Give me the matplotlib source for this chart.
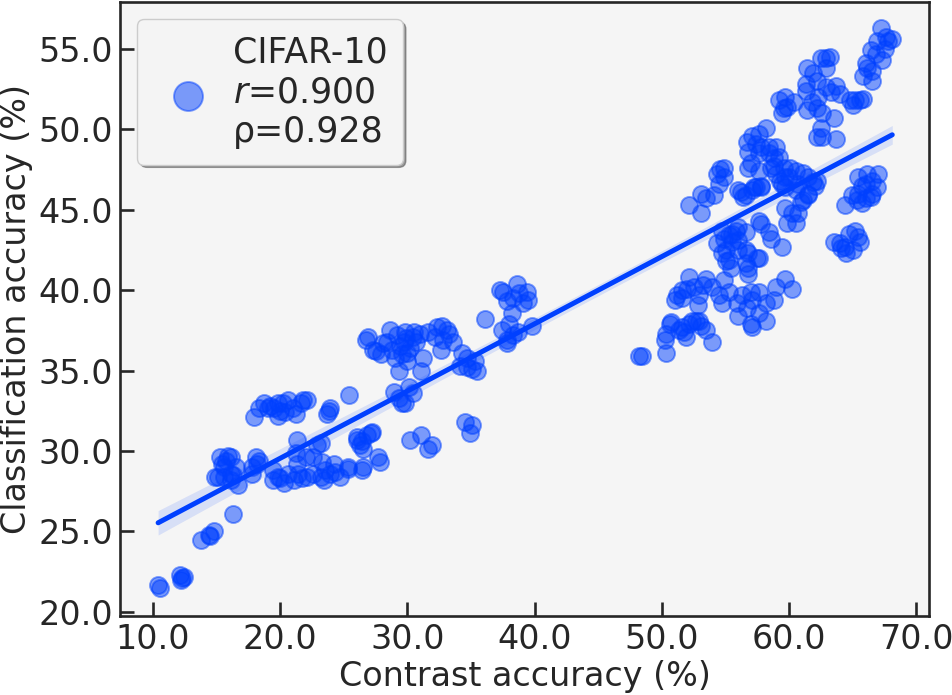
import numpy as np
import matplotlib
matplotlib.use("Agg")
import matplotlib.pyplot as plt

# ---- data (contrast acc %, classification acc %) ----
low_x = [10.4, 10.55, 12.1, 12.3, 12.2, 12.4, 13.8, 14.4, 14.8, 14.5, 16.3]
low_y = [21.7, 21.5, 22.3, 22.1, 22.0, 22.2, 24.5, 24.8, 25.0, 24.7, 26.1]

c15_x = [15.3, 15.7, 16.1, 15.1, 15.6, 16.3, 16.7, 16.1, 15.6, 16.5, 15.9, 14.9, 16.1, 15.4,
         18.1, 17.8, 18.2, 17.8, 18.3]
c15_y = [29.6, 29.4, 29.6, 28.4, 28.4, 28.5, 27.9, 28.2, 29.0, 29.0, 29.7, 28.4, 28.6, 29.2,
         29.6, 29.0, 29.2, 28.6, 29.4]

c33_x = [17.9, 18.3, 18.7, 19.2, 19.8, 20.0, 20.6, 21.0, 21.2, 21.8, 19.8, 20.4, 19.0, 19.5,
         21.6, 22.1, 20.2, 23.7, 23.9, 23.8, 25.4]
c33_y = [32.1, 32.7, 33.0, 32.8, 33.0, 32.5, 33.2, 32.7, 32.3, 33.2, 32.2, 32.4, 32.7, 32.7,
         33.0, 33.2, 33.0, 32.3, 32.7, 32.5, 33.5]

c28_x = [19.4, 19.4, 19.8, 20.3, 20.6, 21.1, 21.4, 21.7, 21.3, 21.2, 21.3, 22.0, 22.6, 22.9,
         23.2, 22.6, 23.2, 23.5, 23.9, 24.3, 24.7, 25.3, 23.4, 26.4, 24.2, 23.3, 20.0, 22.1,
         26.0, 26.4, 26.8, 27.2, 26.5, 26.3, 27.1, 26.0, 27.7, 27.8, 25.3, 26.5]
c28_y = [28.8, 28.2, 28.4, 28.0, 28.6, 28.2, 28.6, 28.3, 29.2, 29.9, 30.7, 29.6, 29.6, 30.4,
         30.5, 28.6, 28.4, 28.8, 28.6, 28.7, 28.4, 28.9, 28.2, 28.8, 29.2, 29.3, 28.3, 28.4,
         30.9, 30.6, 31.0, 31.2, 30.1, 30.4, 31.1, 30.7, 29.6, 29.3, 29.0, 29.0]

c31_x = [30.2, 31.1, 31.6, 31.9, 34.5, 35.1, 34.9]
c31_y = [30.7, 31.0, 30.1, 30.4, 31.8, 31.6, 31.1]

c36_x = [26.9, 26.7, 27.3, 27.9, 28.6, 28.4, 29.2, 29.4, 29.0, 29.3, 30.0, 30.0, 30.4, 30.7,
         31.1, 31.2, 31.0, 29.8, 28.1, 28.8, 29.7, 30.2, 29.6, 27.5, 30.5, 29.9,
         31.6, 32.3, 32.7, 33.1, 32.2, 32.8, 33.6, 32.6, 33.3,
         34.3, 34.7, 34.1, 34.7, 35.3, 35.5, 35.1,
         29.3, 29.8, 30.4, 29.6, 28.9, 30.1, 36.1]
c36_y = [37.1, 36.9, 36.3, 36.0, 37.5, 36.8, 37.2, 36.5, 35.8, 35.0, 35.6, 36.1, 37.1, 36.8,
         35.0, 35.8, 37.3, 37.4, 36.7, 36.3, 36.8, 36.4, 36.0, 36.2, 37.4, 37.0,
         37.4, 37.7, 37.8, 37.5, 37.1, 36.9, 36.8, 36.3, 37.3,
         36.1, 35.8, 35.3, 35.2, 35.6, 35.0, 35.1,
         33.3, 33.0, 33.6, 33.0, 33.7, 34.0, 38.2]

c39_x = [37.3, 38.6, 39.4, 39.5, 37.8, 38.3, 38.8, 38.2, 37.5, 39.1,
         37.4, 38.0, 37.8, 38.3, 38.7, 37.8, 39.8]
c39_y = [40.0, 40.4, 39.9, 39.4, 39.3, 39.5, 39.8, 38.6, 39.9, 39.2,
         37.5, 37.9, 36.9, 37.2, 37.4, 36.7, 37.8]

h38_x = [48.2, 48.4, 50.3, 50.2, 50.3, 50.7, 51.3, 51.7, 52.1, 52.7, 53.1, 53.5, 53.9, 51.9,
         50.6, 51.6, 52.4, 52.9,
         51.2, 51.6, 52.1, 52.0, 52.5, 52.9, 52.8, 53.5, 53.9, 54.5, 54.7, 54.9, 55.3, 51.0,
         51.6, 53.2,
         55.9, 56.3, 57.0, 57.6, 58.2, 58.8, 59.0, 59.7, 60.2, 56.0, 56.7, 57.0, 57.1, 58.2,
         57.6, 57.1]
h38_y = [35.9, 35.9, 36.1, 36.9, 37.3, 38.0, 37.5, 37.4, 37.9, 38.1, 37.8, 37.5, 36.8, 37.1,
         37.9, 37.7, 38.1, 38.1,
         39.7, 40.0, 40.8, 40.1, 40.2, 39.7, 39.1, 40.7, 40.2, 39.7, 39.2, 40.6, 39.9, 39.4,
         39.5, 40.3,
         39.2, 39.7, 39.9, 39.9, 39.2, 39.4, 40.2, 40.7, 40.1, 38.4, 38.9, 37.9, 37.7, 38.1,
         38.6, 39.4]

h43_x = [54.3, 54.9, 55.3, 55.5, 55.8, 55.0, 55.3, 55.4, 56.8, 57.6, 56.8, 56.8, 56.6, 57.8,
         58.4, 58.6, 59.4, 56.0, 54.7, 55.5, 56.0, 56.6, 55.0, 56.6, 57.6, 54.7, 56.0, 57.5]
h43_y = [42.9, 43.2, 43.4, 43.0, 43.7, 42.5, 41.9, 41.4, 42.3, 42.0, 41.4, 41.0, 43.6, 44.1,
         43.6, 43.2, 42.7, 43.1, 43.7, 43.5, 43.9, 42.5, 41.8, 41.7, 44.3, 42.3, 42.5, 42.0]

h46_x = [52.1, 53.1, 53.1, 53.5, 54.1, 54.5, 56.2, 56.6, 57.2, 57.8, 54.3, 54.6, 54.9, 56.0,
         57.1, 56.4,
         59.7, 60.2, 59.8, 60.5, 60.9, 61.5, 59.4, 60.7, 61.1]
h46_y = [45.3, 44.8, 46.0, 45.7, 45.9, 46.6, 46.1, 45.9, 46.4, 46.4, 47.2, 47.5, 47.0, 46.2,
         46.2, 45.8,
         45.1, 44.8, 44.2, 44.2, 45.5, 45.9, 46.6, 44.8, 45.6]

h48_x = [58.2, 57.6, 57.1, 56.7, 57.4, 57.8, 58.4, 59.0, 56.8, 57.6, 58.4, 58.8, 57.0, 57.6,
         58.6, 59.0, 59.6, 60.1, 60.5, 61.1, 59.3, 59.7, 60.7, 61.5, 61.9, 59.7, 60.5, 61.5,
         54.9, 57.4, 57.8, 56.8, 59.2, 58.8, 60.0, 62.2, 62.0]
h48_y = [50.1, 49.7, 49.6, 49.2, 49.1, 48.9, 48.9, 48.9, 48.6, 48.5, 48.5, 48.2, 47.9, 47.4,
         47.6, 47.2, 47.6, 47.6, 47.4, 47.3, 46.8, 47.0, 46.6, 47.0, 46.7, 46.4, 46.2, 46.0,
         47.6, 46.4, 46.5, 47.6, 48.3, 47.7, 47.0, 46.8, 46.5]

h52_x = [62.9, 63.2, 62.5, 61.4, 61.9, 62.9, 62.2, 61.3, 61.3, 62.9, 63.7, 63.3, 64.0, 62.3,
         61.8, 62.2, 61.4, 62.6, 63.5, 62.5, 62.2, 62.6, 63.7,
         64.8, 65.2, 65.6, 65.0, 65.8,
         59.2, 59.7, 60.4, 59.6, 59.4, 59.8,
         67.2, 66.9, 67.6, 68.1, 66.4, 66.8, 67.3, 66.0, 66.1, 66.5, 65.8, 66.5, 67.5, 67.8]
h52_y = [54.4, 54.5, 54.4, 53.8, 53.5, 53.8, 53.0, 52.8, 52.4, 52.6, 52.7, 52.3, 52.2, 52.0,
         51.7, 51.3, 51.2, 51.0, 50.7, 50.1, 49.5, 49.5, 49.4,
         51.8, 51.8, 51.8, 51.5, 51.9,
         51.8, 52.0, 51.7, 51.3, 51.0, 51.4,
         56.3, 55.5, 55.7, 55.6, 54.9, 54.7, 54.3, 54.1, 53.8, 53.6, 53.3, 53.0, 55.0, 55.5]

r44_x = [63.5, 64.0, 64.4, 64.7, 65.2, 65.4, 65.0, 64.1, 65.6, 64.5,
         64.4, 64.9, 65.4, 66.0, 66.5, 65.7, 65.4, 66.1, 66.5, 67.0, 66.0, 66.9, 66.4, 65.3, 65.7]
r44_y = [43.0, 42.9, 42.7, 43.5, 43.7, 43.3, 42.5, 42.6, 43.0, 42.3,
         45.3, 45.9, 46.0, 45.7, 46.0, 46.5, 47.0, 47.2, 46.8, 47.2, 46.6, 46.4, 45.8, 45.6, 45.4]

legend_label = "CIFAR-10\n$r$=0.900\n\u03c1=0.928"
x_ticks = [10, 20, 30, 40, 50, 60, 70]
y_ticks = [20, 25, 30, 35, 40, 45, 50, 55]

xs = np.array(low_x + c15_x + c33_x + c28_x + c31_x + c36_x + c39_x
              + h38_x + h43_x + h46_x + h48_x + h52_x + r44_x)
ys = np.array(low_y + c15_y + c33_y + c28_y + c31_y + c36_y + c39_y
              + h38_y + h43_y + h46_y + h48_y + h52_y + r44_y)

blue = "#0040ff"
dark = "#262626"

plt.rcParams["font.family"] = ["DejaVu Sans"]
fig = plt.figure(figsize=(9.52, 6.95), dpi=100)
ax = fig.add_axes([0.126, 0.1137, 0.85, 0.8833])
ax.set_facecolor("#f5f5f5")

ax.scatter(xs, ys, s=150, color=blue, alpha=0.5, linewidths=1.4, label=legend_label, zorder=2)

# linear fit + 95% ci band
slope, icpt = np.polyfit(xs, ys, 1)
grid = np.linspace(xs.min(), xs.max(), 100)
fit = slope * grid + icpt
resid = ys - (slope * xs + icpt)
n = len(xs)
s_err = np.sqrt(np.sum(resid ** 2) / (n - 2))
ci = 1.97 * s_err * np.sqrt(1.0 / n + (grid - xs.mean()) ** 2 / np.sum((xs - xs.mean()) ** 2))
ax.fill_between(grid, fit - ci, fit + ci, color=blue, alpha=0.12, linewidth=0, zorder=3)
ax.plot(grid, fit, color=blue, lw=3.6, solid_capstyle="round", zorder=4)

ax.set_xlim(7.4, 71.0)
ax.set_ylim(19.75, 57.9)
ax.set_xticks(x_ticks)
ax.set_yticks(y_ticks)
ax.set_xticklabels(["%.1f" % v for v in x_ticks])
ax.set_yticklabels(["%.1f" % v for v in y_ticks])
ax.tick_params(direction="in", length=10, width=1.9, colors=dark, labelsize=24, pad=5)
for sp in ax.spines.values():
    sp.set_color(dark)
    sp.set_linewidth(1.9)

ax.set_xlabel("Contrast accuracy (%)", fontsize=24, color=dark, labelpad=3)
ax.set_ylabel("Classification accuracy (%)", fontsize=24, color=dark, labelpad=4)

leg = ax.legend(loc="upper left", fontsize=25, markerscale=1.7, fancybox=True, shadow=True,
                borderpad=0.45, handletextpad=0.3, borderaxespad=0.5, labelspacing=0.2)
leg.get_frame().set_facecolor("#f4f4f4")
leg.get_frame().set_edgecolor("#cccccc")
leg.get_frame().set_alpha(1)
for t in leg.get_texts():
    t.set_color(dark)
    t.set_linespacing(1.22)

fig.savefig("out.png", dpi=100)
